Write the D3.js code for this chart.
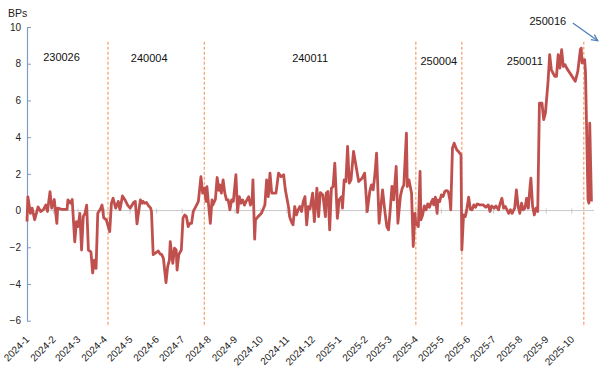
<!DOCTYPE html>
<html><head><meta charset="utf-8">
<script src="https://cdn.jsdelivr.net/npm/d3@7"></script>
<style>body{margin:0;background:#fff;} svg{display:block;font-family:"Liberation Sans",Arial,sans-serif;}</style>
</head><body><svg id="c" width="600" height="368"></svg>
<script>
const dates=[
"2024-01-01","2024-01-02","2024-01-05","2024-01-07","2024-01-10","2024-01-12","2024-01-14","2024-01-17","2024-01-20","2024-01-23","2024-01-25","2024-01-28","2024-01-30",
"2024-02-02","2024-02-05","2024-02-06","2024-02-11","2024-02-17","2024-02-18","2024-02-21","2024-02-23","2024-02-26","2024-02-28",
"2024-03-01","2024-03-03","2024-03-05","2024-03-07","2024-03-09","2024-03-11","2024-03-13","2024-03-16","2024-03-18","2024-03-20","2024-03-22","2024-03-24","2024-03-27","2024-03-29","2024-03-31",
"2024-04-03","2024-04-07","2024-04-09","2024-04-11","2024-04-14","2024-04-17","2024-04-19","2024-04-22","2024-04-25","2024-04-28",
"2024-05-01","2024-05-05","2024-05-07","2024-05-09","2024-05-11","2024-05-13","2024-05-15","2024-05-16","2024-05-18","2024-05-20","2024-05-22","2024-05-25","2024-05-26","2024-05-28","2024-05-31",
"2024-06-03","2024-06-05","2024-06-07","2024-06-09","2024-06-12","2024-06-14","2024-06-16","2024-06-17","2024-06-20","2024-06-22","2024-06-24","2024-06-25","2024-06-27","2024-06-30",
"2024-07-02","2024-07-04","2024-07-06","2024-07-08","2024-07-10","2024-07-12","2024-07-14","2024-07-17","2024-07-20","2024-07-23","2024-07-25","2024-07-27","2024-07-29","2024-07-30",
"2024-08-03","2024-08-05","2024-08-06","2024-08-09","2024-08-11","2024-08-13","2024-08-14","2024-08-16","2024-08-18","2024-08-20","2024-08-22","2024-08-24","2024-08-26","2024-08-28","2024-08-30",
"2024-09-02","2024-09-04","2024-09-06","2024-09-08","2024-09-10","2024-09-12","2024-09-14","2024-09-17","2024-09-19","2024-09-21","2024-09-22","2024-09-24","2024-09-25","2024-09-28",
"2024-10-02","2024-10-06","2024-10-08","2024-10-10","2024-10-12","2024-10-14","2024-10-16","2024-10-19","2024-10-22","2024-10-25","2024-10-28","2024-10-30",
"2024-11-03","2024-11-04","2024-11-06","2024-11-08","2024-11-10","2024-11-12","2024-11-14","2024-11-16","2024-11-18","2024-11-20","2024-11-22","2024-11-24","2024-11-26","2024-11-28",
"2024-12-01","2024-12-03","2024-12-06","2024-12-08","2024-12-10","2024-12-13","2024-12-16","2024-12-17","2024-12-19","2024-12-21","2024-12-23","2024-12-25","2024-12-27","2024-12-30",
"2025-01-01","2025-01-04","2025-01-05","2025-01-07","2025-01-09","2025-01-11","2025-01-13","2025-01-15","2025-01-18","2025-01-21","2025-01-24","2025-01-28","2025-01-31",
"2025-02-03","2025-02-06","2025-02-08","2025-02-10","2025-02-12","2025-02-14","2025-02-17","2025-02-19","2025-02-21","2025-02-24","2025-02-26","2025-02-28",
"2025-03-02","2025-03-04","2025-03-06","2025-03-09","2025-03-11","2025-03-14","2025-03-16","2025-03-18","2025-03-21","2025-03-22","2025-03-24","2025-03-27","2025-03-29","2025-03-31",
"2025-04-01","2025-04-04","2025-04-06","2025-04-07","2025-04-09","2025-04-11","2025-04-13","2025-04-15","2025-04-17","2025-04-19","2025-04-21","2025-04-22","2025-04-24","2025-04-26","2025-04-27","2025-04-29",
"2025-05-01","2025-05-03","2025-05-05","2025-05-07","2025-05-09","2025-05-11","2025-05-12","2025-05-14","2025-05-16","2025-05-19","2025-05-22","2025-05-24","2025-05-25","2025-05-27","2025-05-29","2025-05-31",
"2025-06-02","2025-06-04","2025-06-06","2025-06-08","2025-06-10","2025-06-12","2025-06-15","2025-06-19","2025-06-22","2025-06-25","2025-06-27","2025-06-29",
"2025-07-02","2025-07-04","2025-07-07","2025-07-09","2025-07-11","2025-07-13","2025-07-15","2025-07-17","2025-07-19","2025-07-21","2025-07-23","2025-07-24","2025-07-26","2025-07-28","2025-07-30",
"2025-08-01","2025-08-03","2025-08-05","2025-08-07","2025-08-09","2025-08-11","2025-08-13","2025-08-14","2025-08-16","2025-08-18","2025-08-20","2025-08-22","2025-08-24","2025-08-27","2025-08-29","2025-08-31",
"2025-09-03","2025-09-05","2025-09-07","2025-09-09","2025-09-11","2025-09-13","2025-09-15","2025-09-17","2025-09-19","2025-09-21","2025-09-23","2025-09-25",
"2025-10-05","2025-10-08","2025-10-11","2025-10-12","2025-10-13","2025-10-16","2025-10-17","2025-10-20","2025-10-21","2025-10-22","2025-10-24"
];
const values=[
-0.6,0.75,-0.15,0.13,-0.5,-0.15,0.2,-0.05,0.04,0.3,-0.05,1.03,0.13,
0.6,-0.7,0.13,0.07,0.07,0.58,0.4,0.6,-1.7,-0.6,
-0.87,-0.15,-2.15,-0.33,-0.15,0.3,-2.15,-2.25,-3.4,-2.7,-3.15,-0.15,0.07,0.3,-0.4,
-0.5,-1.15,0.4,0.67,0.13,0.5,0.05,0.8,0.58,0.3,
0.13,0.44,0.5,-0.73,-0.05,0.58,0.4,0.5,0.4,0.44,0.3,0.13,-0.05,-2.4,-2.3,
-2.2,-2.36,-2.4,-2.6,-3.93,-3.05,-2.7,-1.7,-2.87,-2.05,-2.15,-3.24,-2.4,-2.15,
-0.4,-0.24,-0.33,-0.87,-0.7,-0.7,-0.05,0.22,0.5,1.85,0.95,1.22,0.5,1.3,
-0.7,0.58,0.3,0.62,1.8,1.1,1.4,0.95,1.67,0.95,0.58,0.58,0.04,0.58,0.5,
1.95,-0.1,0.76,0.4,0.58,0.3,0.5,0.76,0.3,0.5,1.67,-1.56,-0.5,-0.33,
-0.15,0.3,1.67,0.76,2.04,0.95,0.95,0.95,2.04,1.85,1.95,1.13,
0.13,-0.33,-0.6,-0.78,0.22,-0.24,0.04,0.22,-0.05,0.5,0.76,-0.78,0.22,0.1,
0.95,-0.6,1.22,-0.33,0.98,0.85,-0.33,0.95,1.04,-1.05,1.22,1.31,2.58,-0.42,
0.58,0.76,0.13,1.67,1.58,3.49,1.49,1.67,3.22,2.4,1.58,1.76,2.04,
-0.05,1.04,1.4,1.13,1.95,3.13,-0.69,0.22,1.13,-0.15,-0.87,-1.05,
0.04,1.31,0.58,2.4,-0.69,0.8,1.2,1.4,4.22,1.31,1.67,0.95,-1.96,-0.15,
-0.69,-0.87,2.13,-0.5,-0.24,0.25,0.04,0.36,0.18,0.44,0.62,0.31,0.73,-0.15,0.58,0.49,
0.85,0.76,1.04,1.09,1.04,0.58,0.04,3.4,3.67,3.31,3.16,3.04,-2.15,-0.24,-0.33,0.13,
0.73,0.07,0.04,0.31,0.18,0.36,0.31,0.31,0.18,0.31,-0.05,0.25,
0.13,0.25,0.04,0.4,0.67,0.13,0.22,0.04,-0.15,0.04,-0.15,-0.05,0.13,1.13,0.22,
-0.15,0.4,0.04,0.13,0.67,0.13,1.31,1.76,0.22,-0.24,0.13,-0.05,5.85,5.85,4.95,5.31,
6.95,8.49,7.67,7.49,7.31,7.31,8.49,7.76,8.76,7.85,7.95,7.76,
7.04,7.58,8.76,8.85,8.04,8.22,7.58,0.58,0.4,4.76,0.49
];
const yTicks=[10,8,6,4,2,0,-2,-4,-6];
const monthLabels=["2024-1","2024-2","2024-3","2024-4","2024-5","2024-6","2024-7","2024-8","2024-9","2024-10","2024-11","2024-12",
"2025-1","2025-2","2025-3","2025-4","2025-5","2025-6","2025-7","2025-8","2025-9","2025-10"];
const eventDates=["2024-04-05","2024-07-27","2025-04-01","2025-05-25","2025-10-15"];
const periodLabels=["230026","240004","240011","250004","250011","250016"];
const unitLabel="BPs";

const parse=d3.timeParse("%Y-%m-%d");
const parseM=d3.timeParse("%Y-%m");
const data=dates.map((d,i)=>({date:parse(d),value:values[i]}));
const svg=d3.select("#c");
const x=d3.scaleTime().domain([parse("2024-01-01"),parse("2025-10-27")]).range([27,594]);
const y=d3.scaleLinear().domain([-6,10]).range([320.7,27]);

// unit label
svg.append("text").attr("x",8).attr("y",17).attr("font-size",10.5).attr("fill","#222").text(unitLabel);

// y axis
const ya=svg.append("g").attr("transform","translate(27,0)")
  .call(d3.axisLeft(y).tickValues(yTicks).tickSizeInner(-4).tickSizeOuter(0).tickPadding(6));
ya.select(".domain").attr("stroke","#7f9cc4").attr("stroke-width",1.2);
ya.selectAll(".tick line").attr("stroke","#7f9cc4");
ya.selectAll(".tick text").attr("font-size",10).attr("fill","#222").attr("font-family","Liberation Sans, Arial, sans-serif");

// zero / category axis line
const monthDates=monthLabels.map(parseM);
svg.append("line").attr("x1",x.range()[0]).attr("x2",x.range()[1]).attr("y1",y(0)).attr("y2",y(0))
  .attr("stroke","#c8c8c8").attr("stroke-width",1);
svg.append("g").selectAll("line").data(monthDates).join("line")
  .attr("x1",d=>x(d)).attr("x2",d=>x(d)).attr("y1",y(0)-2).attr("y2",y(0)+3)
  .attr("stroke","#c8c8c8");
svg.append("g").selectAll("text").data(monthDates).join("text")
  .attr("transform",d=>`translate(${x(d)+3},${340}) rotate(-45)`)
  .attr("text-anchor","end").attr("font-size",10).attr("fill","#222")
  .text((d,i)=>monthLabels[i]);

// event dashed lines
const ev=eventDates.map(parse);
svg.append("g").selectAll("line").data(ev).join("line")
  .attr("x1",d=>x(d)).attr("x2",d=>x(d)).attr("y1",y(9.2)).attr("y2",y(-6.35))
  .attr("stroke","#f5a673").attr("stroke-width",1.3).attr("stroke-dasharray","3,2");

// series line
svg.append("path").datum(data)
  .attr("d",d3.line().x(d=>x(d.date)).y(d=>y(d.value)))
  .attr("fill","none").attr("stroke","#c0504d").attr("stroke-width",2.8)
  .attr("stroke-linejoin","round");

// period labels
const bounds=[x.domain()[0],...ev];
const nudges=[-6,-7,0,0,2];
const ly=[61,62,62,65,65];
for(let i=0;i<5;i++){
  const cx=(x(bounds[i])+x(bounds[i+1]))/2+nudges[i];
  svg.append("text").attr("x",cx).attr("y",ly[i]).attr("text-anchor","middle")
    .attr("font-size",11).attr("fill","#111").text(periodLabels[i]);
}
const lastX=x(ev[4]);
svg.append("text").attr("x",lastX-36).attr("y",25).attr("text-anchor","middle")
  .attr("font-size",11).attr("fill","#111").text(periodLabels[5]);
// arrow
const ax1=lastX-11, ay1=23, ax2=lastX+14, ay2=y(9.25);
svg.append("line").attr("x1",ax1).attr("y1",ay1).attr("x2",ax2).attr("y2",ay2)
  .attr("stroke","#4a7ebb").attr("stroke-width",1.2);
const ang=Math.atan2(ay2-ay1,ax2-ax1);
const hl=7, ha=0.45;
svg.append("path")
  .attr("d",`M${ax2-hl*Math.cos(ang-ha)},${ay2-hl*Math.sin(ang-ha)}L${ax2},${ay2}L${ax2-hl*Math.cos(ang+ha)},${ay2-hl*Math.sin(ang+ha)}`)
  .attr("fill","none").attr("stroke","#4a7ebb").attr("stroke-width",1.2);
</script></body></html>
